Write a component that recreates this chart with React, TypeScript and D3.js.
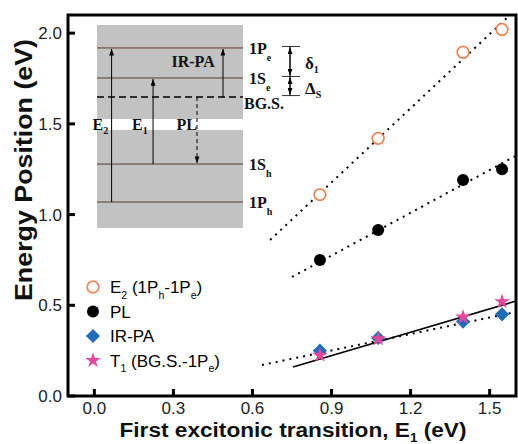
import * as d3 from 'd3';

// sample positions (first excitonic transition, eV)
const xValues = [0.856, 1.077, 1.399, 1.547];
const e2Values = [1.11, 1.42, 1.895, 2.02];
const plValues = [0.75, 0.915, 1.19, 1.25];
const irpaValues = [0.25, 0.32, 0.41, 0.45];
const t1Values = [0.225, 0.315, 0.435, 0.52];

// fit line end points
const e2FitX = [0.667, 1.57];
const e2FitY = [0.86, 2.09];
const plFitX = [0.75, 1.62];
const plFitY = [0.656, 1.34];
const irpaFitX = [0.636, 1.58];
const irpaFitY = [0.171, 0.457];
const t1FitX = [0.754, 1.62];
const t1FitY = [0.16, 0.532];

const xTicks = [0, 0.3, 0.6, 0.9, 1.2, 1.5];
const yTicks = [0, 0.5, 1.0, 1.5, 2.0];

// inset schematic (arbitrary energy units 0..100)
const levelNames = ['1P', '1S', 'BG.S.', '1S', '1P'];
const levelSubs = ['h', 'h', '', 'e', 'e'];
const levelEnergies = [12.8, 31.5, 64.5, 73.9, 88.7];
const insetGap = [48.3, 53.7];

const W = 518;
const H = 444;

const sym = (type: d3.SymbolType, size: number) => d3.symbol().type(type).size(size)() as string;

const Marker = ({ kind, cx, cy }: { kind: string; cx: number; cy: number }) => {
  if (kind === 'e2')
    return <circle cx={cx} cy={cy} r={5.8} fill="white" stroke="#f0845a" strokeWidth={1.8} />;
  if (kind === 'pl') return <circle cx={cx} cy={cy} r={6} fill="#000" />;
  if (kind === 'ir')
    return <path d={sym(d3.symbolSquare, 100)} transform={`translate(${cx},${cy}) rotate(45)`} fill="#1f6db8" />;
  return <path d={sym(d3.symbolStar, 75)} transform={`translate(${cx},${cy})`} fill="#e2479c" />;
};

export default function App() {
  const x = d3.scaleLinear().domain([-0.1, 1.6]).range([68, 516]);
  const y = d3.scaleLinear().domain([0, 2.1]).range([396, 15]);
  const line = d3.line<[number, number]>().x(d => x(d[0])).y(d => y(d[1]));
  const fit = (xs: number[], ys: number[]) => line(xs.map((v, i) => [v, ys[i]] as [number, number])) as string;

  const ix = d3.scaleLinear().domain([0, 1]).range([97, 243]);
  const iy = d3.scaleLinear().domain([0, 100]).range([228, 25]);
  const lv = (n: string, s: string) => levelEnergies[levelNames.findIndex((m, i) => m === n && levelSubs[i] === s)];

  const series = [
    { kind: 'e2', vals: e2Values },
    { kind: 'pl', vals: plValues },
    { kind: 'ir', vals: irpaValues },
    { kind: 't1', vals: t1Values },
  ];

  const serif = '"Liberation Serif", "Times New Roman", serif';
  const sans = '"Liberation Sans", Arial, sans-serif';
  const levelColor = '#5a3b33';

  const arrows = [
    { fx: 0.1, from: lv('1P', 'h'), to: lv('1P', 'e'), dash: false },
    { fx: 0.384, from: lv('1S', 'h'), to: lv('1S', 'e'), dash: false },
    { fx: 0.863, from: lv('BG.S.', ''), to: lv('1P', 'e'), dash: false },
    { fx: 0.685, from: lv('BG.S.', ''), to: lv('1S', 'h'), dash: true },
  ];

  const legend = [
    { kind: 'e2', parts: [['E', ''], ['2', 's'], [' (1P', ''], ['h', 's'], ['-1P', ''], ['e', 's'], [')', '']] },
    { kind: 'pl', parts: [['PL', '']] },
    { kind: 'ir', parts: [['IR-PA', '']] },
    { kind: 't1', parts: [['T', ''], ['1', 's'], [' (BG.S.-1P', ''], ['e', 's'], [')', '']] },
  ];

  const subParts = (parts: string[][], size: number) => {
    let shifted = false;
    return parts.map(([t, k], i) => {
      let dy = 0;
      if (k === 's' && !shifted) { dy = size * 0.35; shifted = true; }
      else if (k !== 's' && shifted) { dy = -size * 0.35; shifted = false; }
      return (
        <tspan key={i} dy={dy} fontSize={k === 's' ? size * 0.62 : size}>{t}</tspan>
      );
    });
  };

  const insetText = { fontFamily: serif, fontWeight: 'bold' as const, fontSize: 16, fill: '#111' };

  return (
    <svg width={W} height={H} style={{ position: 'absolute', left: 0, top: 0, background: 'white' }}>
      <defs>
        <clipPath id="plot">
          <rect x={68} y={15} width={448} height={381} />
        </clipPath>
        <marker id="ah" viewBox="0 0 8 6" refX={8} refY={3} markerWidth={7} markerHeight={5} orient="auto" markerUnits="userSpaceOnUse">
          <path d="M0,0 L8,3 L0,6 Z" fill="#000" />
        </marker>
      </defs>

      {/* inset schematic */}
      <rect x={ix(0)} y={iy(100)} width={ix(1) - ix(0)} height={iy(insetGap[1]) - iy(100)} fill="#c2c2c2" />
      <rect x={ix(0)} y={iy(insetGap[0])} width={ix(1) - ix(0)} height={iy(0) - iy(insetGap[0])} fill="#c2c2c2" />
      {levelEnergies.map((e, i) => (
        <line key={i} x1={ix(0)} x2={ix(1)} y1={iy(e)} y2={iy(e)} stroke={levelNames[i] === 'BG.S.' ? '#000' : levelColor}
          strokeWidth={levelNames[i] === 'BG.S.' ? 1.6 : 1} strokeDasharray={levelNames[i] === 'BG.S.' ? '7,4' : undefined} />
      ))}
      {arrows.map((a, i) => (
        <line key={i} x1={ix(a.fx)} x2={ix(a.fx)} y1={iy(a.from)} y2={iy(a.to) + (a.dash ? -1 : 1)} stroke="#000" strokeWidth={1}
          strokeDasharray={a.dash ? '4,3' : undefined} markerEnd="url(#ah)" />
      ))}
      {levelEnergies.map((e, i) => (
        <text key={i} x={levelNames[i] === 'BG.S.' ? ix(1) + 1 : ix(1) + 6} y={iy(e) + (levelNames[i] === 'BG.S.' ? 12 : 6)} {...insetText}>
          {levelNames[i]}
          {levelSubs[i] && <tspan dy={7} fontSize={10}>{levelSubs[i]}</tspan>}
        </text>
      ))}
      <text x={ix(0.51)} y={iy(79.5)} {...insetText}>IR-PA</text>
      <text x={ix(-0.03)} y={iy(48.4)} {...insetText}>E<tspan dy={4} fontSize={10}>2</tspan></text>
      <text x={ix(0.24)} y={iy(48.4)} {...insetText}>E<tspan dy={4} fontSize={10}>1</tspan></text>
      <text x={ix(0.545)} y={iy(48.4)} {...insetText}>PL</text>
      {/* energy spacing bars */}
      {[lv('1P', 'e'), lv('1S', 'e'), lv('BG.S.', '')].map((e, i) => (
        <line key={i} x1={282} x2={300} y1={iy(e) - 1.5} y2={iy(e) - 1.5} stroke="#333" strokeWidth={1} />
      ))}
      {[[lv('1S', 'e'), lv('1P', 'e')], [lv('1P', 'e'), lv('1S', 'e')], [lv('BG.S.', ''), lv('1S', 'e')], [lv('1S', 'e'), lv('BG.S.', '')]].map(([a, b], i) => (
        <line key={i} x1={290} x2={290} y1={iy(a) - 1.5} y2={iy(b) - 1.5 + (b > a ? 1 : -1)} stroke="#000" strokeWidth={1} markerEnd="url(#ah)" />
      ))}
      <text x={305} y={iy(81.3) + 6} {...insetText} fontSize={17}>δ<tspan dy={4} fontSize={10}>1</tspan></text>
      <text x={305} y={iy(69.2) + 6} {...insetText} fontSize={17}>Δ<tspan dy={4} fontSize={10}>S</tspan></text>

      {/* fit lines */}
      <g clipPath="url(#plot)" fill="none" stroke="#000">
        <path d={fit(e2FitX, e2FitY)} strokeWidth={2} strokeDasharray="2,5" />
        <path d={fit(plFitX, plFitY)} strokeWidth={2} strokeDasharray="2,5" />
        <path d={fit(irpaFitX, irpaFitY)} strokeWidth={2} strokeDasharray="2,5" />
        <path d={fit(t1FitX, t1FitY)} strokeWidth={1.6} />
      </g>

      {/* data markers */}
      {series.map(s => s.vals.map((v, i) => (
        <Marker key={s.kind + i} kind={s.kind} cx={x(xValues[i])} cy={y(v)} />
      )))}

      {/* legend */}
      {legend.map((l, i) => (
        <g key={l.kind}>
          <Marker kind={l.kind} cx={93} cy={287 + i * 24.5} />
          <text x={110} y={287 + i * 24.5 + 6} fontFamily={sans} fontSize={17} fill="#000">{subParts(l.parts, 17)}</text>
        </g>
      ))}

      {/* frame and ticks */}
      {yTicks.map(t => (
        <g key={t}>
          <line x1={68} x2={75} y1={y(t)} y2={y(t)} stroke="#000" strokeWidth={3} />
          <text x={62} y={y(t) + 6} textAnchor="end" fontFamily={sans} fontSize={17} fill="#222">{t.toFixed(1)}</text>
        </g>
      ))}
      {xTicks.map(t => (
        <g key={t}>
          <line x1={x(t)} x2={x(t)} y1={396} y2={389} stroke="#000" strokeWidth={3} />
          <text x={x(t)} y={414} textAnchor="middle" fontFamily={sans} fontSize={17} fill="#222">{t.toFixed(1)}</text>
        </g>
      ))}
      <rect x={68} y={15} width={448} height={381} fill="none" stroke="#000" strokeWidth={3} />

      <text x={293} y={437} textAnchor="middle" fontFamily={sans} fontWeight="bold" fontSize={20} fill="#111"
        textLength={347} lengthAdjust="spacingAndGlyphs">
        First excitonic transition, E<tspan dy={5} fontSize={12}>1</tspan><tspan dy={-5}> (eV)</tspan>
      </text>
      <text transform="translate(32,170) rotate(-90)" textAnchor="middle" fontFamily={sans} fontWeight="bold" fontSize={24} fill="#111"
        textLength={262} lengthAdjust="spacingAndGlyphs">
        Energy Position (eV)
      </text>
    </svg>
  );
}
